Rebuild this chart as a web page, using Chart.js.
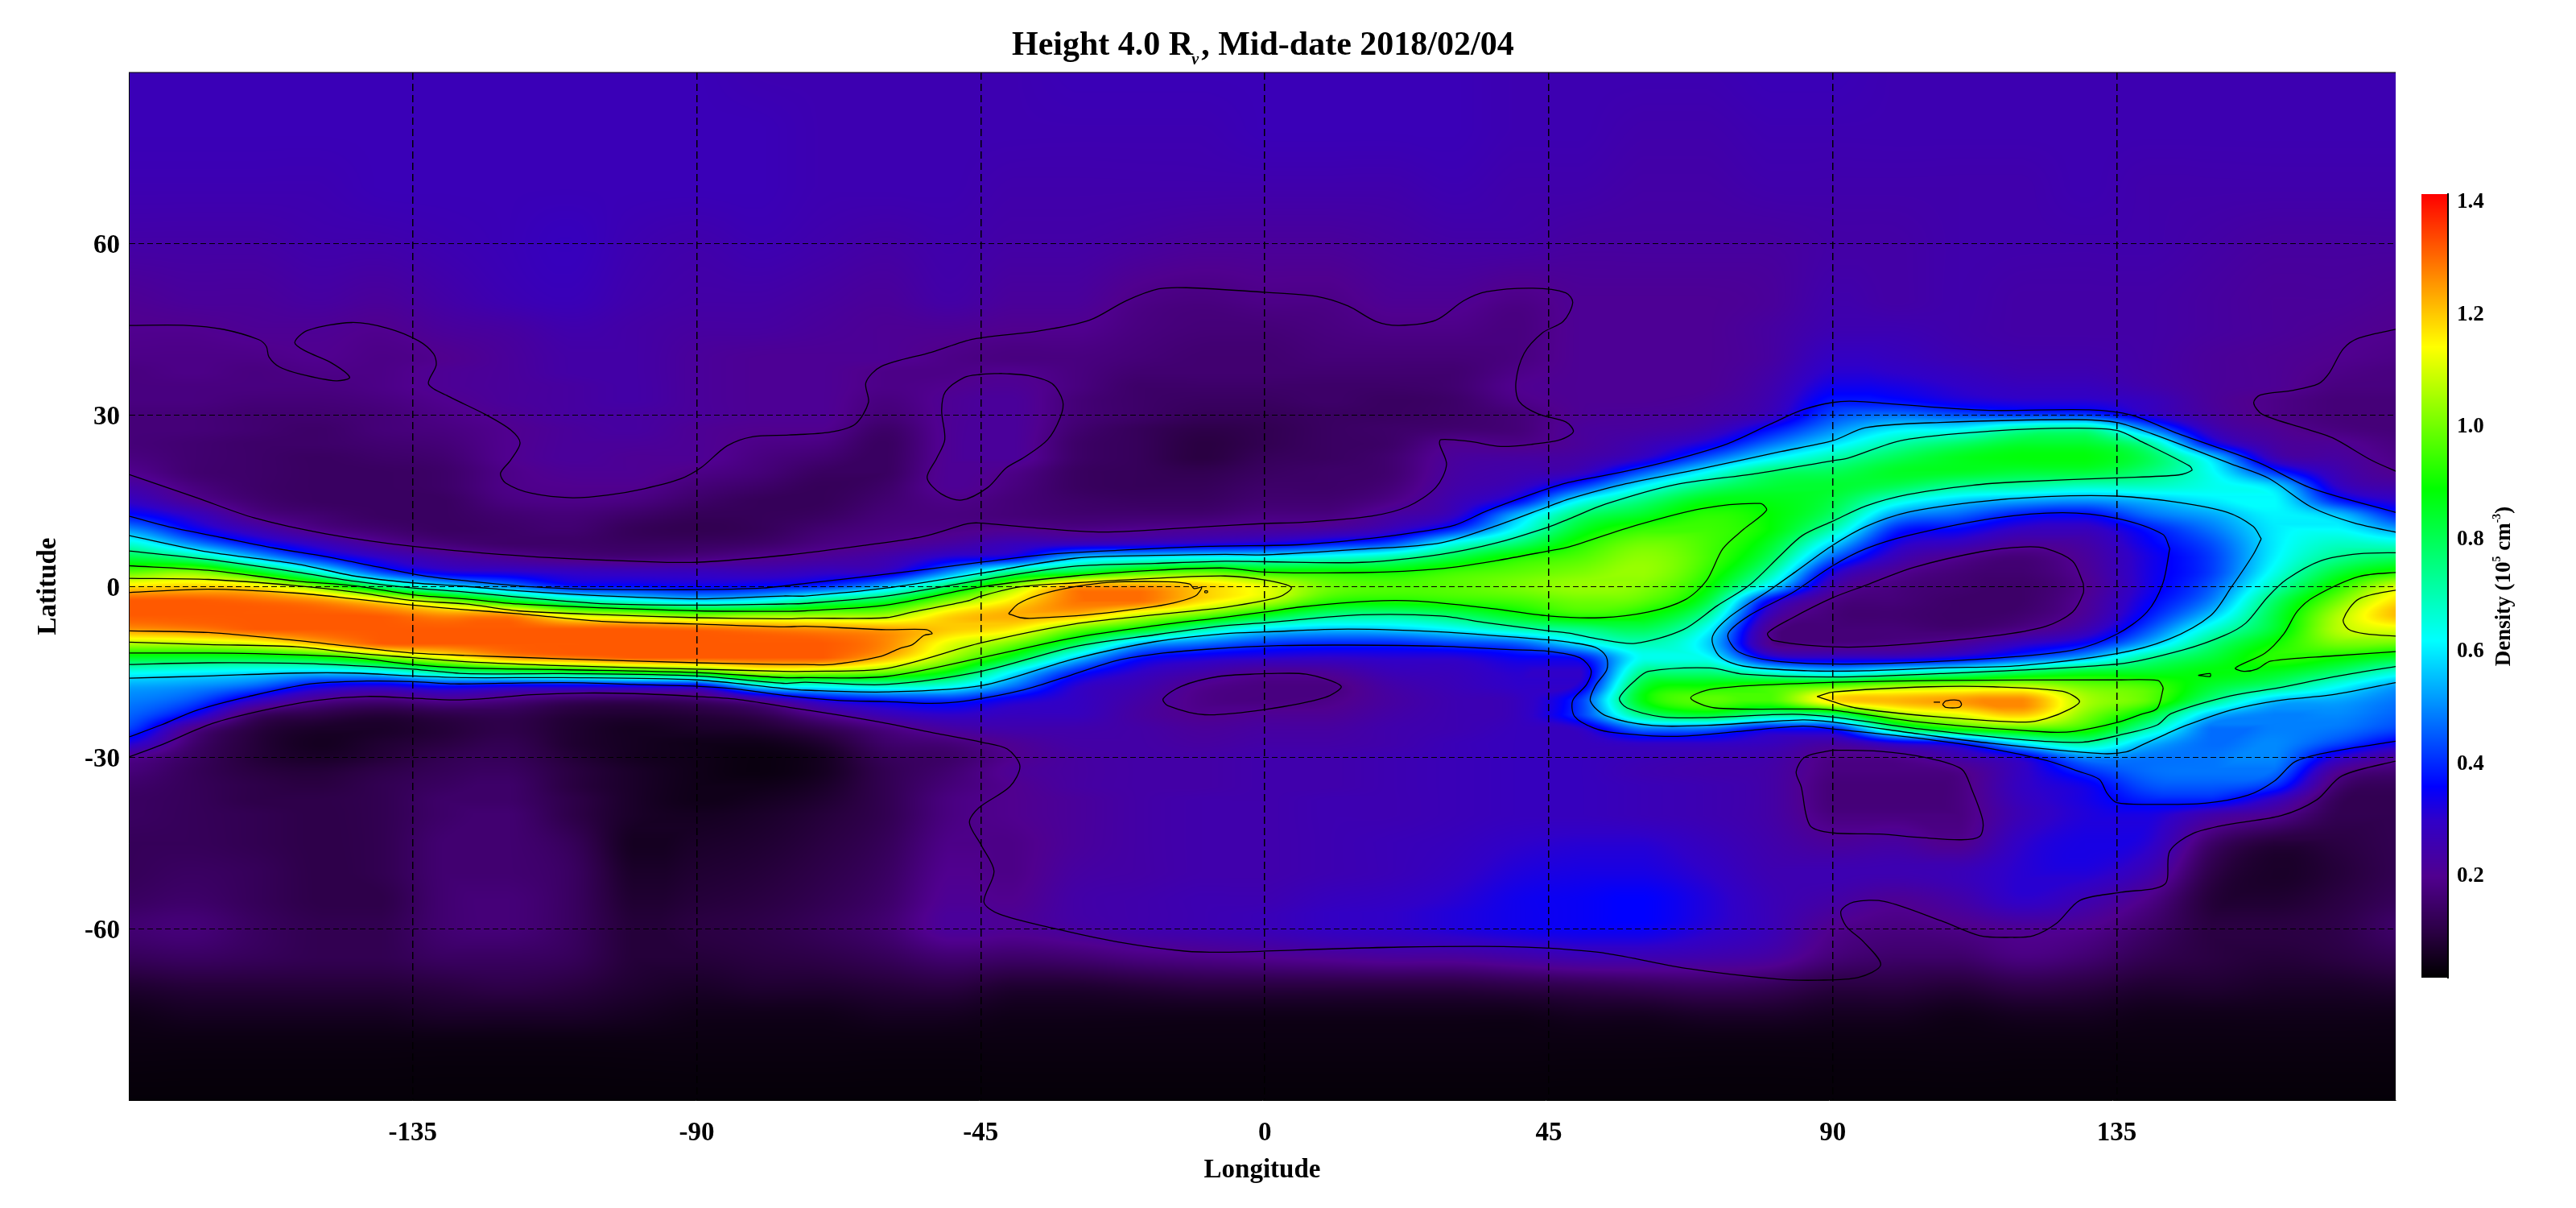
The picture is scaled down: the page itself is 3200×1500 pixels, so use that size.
<!DOCTYPE html>
<html>
<head>
<meta charset="utf-8">
<title>Height 4.0 Rv, Mid-date 2018/02/04</title>
<script src="https://cdn.jsdelivr.net/npm/chart.js@4"></script>
<style>
  body { margin: 0; background: #fff; }
  #map { position: absolute; left: 0; top: 0; }
  #bar { position: absolute; left: 2990px; top: 220px; }
</style>
</head>
<body>
<canvas id="map" width="3200" height="1500"></canvas>
<canvas id="bar" width="210" height="1020"></canvas>
<script>
// ===============================
// Axis ticks
// ===============================
const lonTicks = [-135, -90, -45, 0, 45, 90, 135];
const latTicks = [-60, -30, 0, 30, 60];
const barTicks = [0.2, 0.4, 0.6, 0.8, 1.0, 1.2, 1.4];

// ===============================
// Colour table (density -> colour)
// ===============================
const colorValues = [0.02, 0.1, 0.2, 0.3, 0.36, 0.62, 0.89, 1.143, 1.415];
const colorHex = ["#000000", "#2a0042", "#50008f", "#3000c8", "#0000ff", "#00ffff", "#00ff00", "#ffff00", "#ff0000"];
const densityTop = 1.32; // the map saturates at this value

// ===============================
// Density read from the map, in 0.01 x 10^5 cm^-3
// one row per longitude, values follow mapLats
// ===============================
const mapLons = [-180,-170,-160,-150,-140,-130,-120,-110,-100,-90,-80,-70,-60,-50,-40,-30,-20,-10,0,10,20,30,40,50,60,70,80,90,100,110,120,130,140,150,160,170,180];
const mapLats = [90,80,70,60,50,45,40,37.5,35,32.5,30,27.5,25,22.5,20,17.5,15,12.5,10,7.5,5,2.5,0,-2.5,-5,-7.5,-10,-12.5,-15,-17.5,-20,-22.5,-25,-27.5,-30,-32.5,-35,-37.5,-40,-45,-50,-55,-60,-65,-70,-75,-80,-90];
const density = [
  [27,27,26,24,21,20, 19,18,18,18,17,17,17,18,20,24,29,37,50,66,82,98,117,132,132,126,107,85,64,53,49,46,42,32,20,17,15,14,14, 13,13,14,16,13,8,5,4,3],
  [27,27,26,24,22,20, 19,19,18,18,17,17,16,16,16,18,21,29,36,50,74,102,119,132,132,128,108,84,62,51,44,35,20,16,14,13,13,13,13, 13,14,15,17,14,9,6,4,3],
  [27,27,26,24,22,21, 19,18,18,17,16,16,15,15,15,15,16,19,26,37,56,87,116,130,132,132,112,84,60,46,30,15,10,9,9,10,11,11,12, 12,13,13,14,13,9,6,4,3],
  [27,27,26,25,23,21, 20,19,18,17,16,15,15,14,14,14,14,16,19,28,40,66,100,126,132,132,122,88,58,35,20,11,7,6,7,9,10,11,11, 11,11,11,12,12,9,6,4,3],
  [27,27,27,25,22,20, 19,19,19,18,17,17,16,15,14,14,14,14,16,21,30,43,77,116,131,132,132,100,62,32,17,9,7,8,9,11,12,12,12, 12,12,11,12,12,9,6,4,3],
  [27,27,27,26,24,22, 20,21,21,20,19,18,17,16,15,15,14,14,14,17,24,33,60,102,126,132,132,112,74,37,20,11,9,10,12,13,14,15,15, 16,16,16,16,14,10,7,4,3],
  [27,27,27,27,26,23, 22,22,22,22,21,20,20,20,19,19,18,16,15,15,21,31,50,86,126,132,132,124,80,34,18,12,11,12,13,14,15,15,16, 16,16,17,17,14,11,7,4,3],
  [27,27,27,28,27,25, 24,24,23,23,23,22,22,22,21,20,19,17,16,15,18,29,38,72,110,132,132,128,84,34,14,9,8,8,9,10,10,11,11, 13,14,14,14,13,10,7,4,3],
  [27,27,27,26,25,24, 24,24,24,24,23,23,22,21,21,20,18,15,13,14,17,28,37,64,105,132,132,132,90,34,13,8,6,6,6,7,7,7,7, 6,7,8,9,9,8,6,4,3],
  [27,27,27,25,24,23, 22,22,22,22,22,21,21,21,19,17,15,13,12,14,18,28,35,58,100,130,132,132,94,34,15,9,7,5,5,5,5,5,6, 7,8,9,10,9,7,5,4,3],
  [26,27,27,26,24,23, 21,21,21,21,21,20,19,18,17,15,13,13,13,15,20,27,37,62,102,128,132,132,108,60,22,12,8,5,4,4,5,6,7, 8,9,10,11,10,8,5,4,3],
  [26,26,26,25,23,22, 21,21,21,21,21,20,18,16,14,13,13,14,16,18,22,29,41,75,103,126,132,132,106,64,33,20,12,8,6,6,7,8,9, 10,11,12,13,11,8,5,4,3],
  [26,26,26,24,22,21, 21,19,19,18,17,15,14,14,14,15,16,17,18,20,25,31,55,83,104,124,127,122,100,68,38,27,18,15,13,12,12,12,12, 13,14,15,16,13,9,6,4,3],
  [26,26,26,25,24,21, 19,19,20,21,21,21,21,21,21,21,19,18,19,23,32,50,78,101,118,120,112,105,88,64,40,30,23,17,15,16,17,18,18, 19,20,21,22,16,10,6,4,3],
  [26,26,25,24,22,20, 18,20,21,22,22,22,22,22,19,18,17,17,20,27,36,74,103,116,123,116,101,85,62,48,33,28,25,21,20,21,20,20,20, 19,19,20,21,15,8,5,4,3],
  [27,26,25,24,22,20, 18,18,18,17,17,16,15,15,14,14,15,16,19,28,55,83,124,129,122,100,81,58,40,31,29,28,25,24,23,23,23,22,22, 22,23,24,23,16,8,5,4,3],
  [27,26,25,23,19,18, 17,16,15,15,15,13,13,13,13,13,14,16,20,29,60,94,125,130,110,88,56,38,30,26,24,23,24,24,24,24,24,24,24, 24,24,25,25,18,9,5,4,3],
  [27,26,25,22,18,17, 16,16,15,14,13,11,10,10,12,13,14,16,21,31,63,98,120,118,100,72,48,33,25,20,19,20,22,23,24,24,24,25,25, 25,25,26,26,19,10,5,4,3],
  [27,27,25,22,19,17, 16,16,15,14,13,12,12,13,14,15,16,18,22,33,63,92,112,108,87,60,42,31,21,18,18,21,23,24,25,25,25,25,25, 25,25,26,27,20,10,5,4,3],
  [27,27,25,22,19,18, 17,16,15,15,14,14,14,14,15,15,16,18,23,38,66,91,100,94,76,56,40,30,22,18,19,21,23,24,25,25,25,26,26, 26,26,28,29,21,10,5,4,3],
  [27,27,25,23,21,19, 17,16,15,14,14,15,15,16,16,17,19,23,28,44,72,90,97,92,74,57,40,31,27,24,23,24,25,25,26,26,26,26,26, 27,27,29,30,22,10,5,4,3],
  [27,27,26,24,21,19, 17,16,16,15,15,16,20,22,23,24,26,29,40,64,82,95,98,94,79,62,43,31,28,27,26,26,26,27,27,27,27,27,27, 28,29,31,32,22,10,5,4,3],
  [26,26,25,24,19,18, 18,19,20,19,17,17,19,23,25,28,36,54,63,77,92,98,101,96,87,70,46,35,31,30,28,28,28,28,28,28,28,28,28, 30,32,34,34,24,11,5,4,3],
  [26,26,25,23,21,21, 21,21,21,21,21,22,22,24,28,42,62,77,85,92,97,101,104,100,94,75,60,38,30,33,42,42,30,28,28,28,28,28,28, 31,33,35,35,26,12,6,4,3],
  [26,25,24,23,21,21, 21,21,21,21,22,23,26,30,45,62,76,85,94,100,103,104,102,98,90,80,70,64,74,84,88,75,48,30,27,26,27,27,27, 31,33,36,35,26,13,6,4,3],
  [26,25,24,23,21,21, 21,21,21,22,23,26,33,45,62,76,87,93,95,96,96,94,90,83,73,63,58,63,76,90,98,84,47,30,26,25,26,26,26, 28,30,32,31,25,14,7,4,3],
  [27,26,25,23,22,23, 23,24,25,26,28,37,47,60,77,83,87,89,89,85,80,72,60,36,27,21,20,34,65,94,96,74,36,28,25,24,24,24,24, 25,26,27,27,23,13,7,4,3],
  [27,26,25,24,25,26, 29,31,34,38,43,50,59,71,80,84,82,78,70,58,46,33,25,19,17,17,18,30,58,98,118,78,38,24,19,18,17,17,18, 22,26,24,20,17,10,6,4,3],
  [26,26,25,24,24,26, 28,30,33,37,47,60,71,80,85,80,66,52,40,33,27,21,18,17,16,17,19,30,65,104,122,104,74,32,20,18,17,17,18, 23,26,21,18,15,10,6,4,3],
  [26,26,25,25,25,25, 26,28,30,33,44,62,78,86,85,73,57,46,36,28,20,17,16,15,15,16,22,34,70,106,125,112,90,38,25,19,18,18,18, 20,27,24,19,15,9,5,4,3],
  [26,26,25,25,24,24, 25,26,28,31,42,72,84,88,83,71,53,38,29,22,17,16,15,15,16,19,29,43,78,108,127,120,96,60,33,29,29,28,27, 30,31,30,21,18,11,6,4,3],
  [26,26,26,25,24,24, 25,26,28,31,42,74,84,88,83,68,51,36,28,24,22,21,20,21,22,26,36,54,84,100,106,102,93,72,50,40,34,33,32, 33,32,26,20,16,10,6,4,3],
  [26,26,25,25,24,24, 24,24,25,28,31,50,72,80,76,68,55,47,38,35,33,33,33,35,38,44,54,73,85,96,98,85,70,55,48,47,44,39,33, 31,26,19,15,12,8,5,4,3],
  [26,26,25,24,23,23, 22,22,22,22,23,27,36,58,63,64,60,53,48,44,42,42,45,49,56,66,76,83,88,84,75,56,47,47,48,48,45,39,25, 15,11,9,10,10,8,5,4,3],
  [26,26,25,23,22,22, 21,21,21,19,19,21,23,27,41,58,62,61,60,60,61,64,70,78,82,84,90,93,86,76,56,49,49,50,50,47,40,28,20, 9,7,8,10,9,7,5,4,3],
  [26,26,25,23,22,21, 20,19,18,17,17,18,21,23,26,30,39,56,62,68,74,83,92,100,106,107,101,90,78,63,53,50,48,43,31,21,16,13,12, 10,9,10,11,10,7,5,4,3],
  [26,26,25,23,21,20, 19,18,18,17,17,17,18,19,20,24,30,39,52,66,79,92,110,118,122,112,100,84,66,52,48,46,43,34,22,16,13,12,12, 12,12,13,15,12,8,5,4,3],
];

// ===============================
// Contour lines read from the map, [longitude, latitude]
// ===============================
const lineNorth = [[-180,45.7],[-170.8,45.7],[-165,45],[-159.4,43.2],[-158.2,42],[-157.8,40.2],[-156.1,38.4],[-152.9,37.2],[-147.2,36],[-145,36.6],[-148,39.2],[-152,41.2],[-153.7,42.7],[-151.7,44.8],[-144.7,46.2],[-139,45.2],[-134.1,43],[-131.7,40.7],[-131.3,38.7],[-132.5,35.4],[-129.2,33.2],[-123.5,30.1],[-119.5,27.4],[-118,25.1],[-119.5,22.1],[-121.1,19.8],[-120.3,18.1],[-116.2,16.3],[-109.7,15.5],[-104,16],[-98.3,17.1],[-92.6,18.8],[-89.3,20.8],[-85.2,24.6],[-81.2,26.2],[-75.4,26.5],[-68.9,27],[-64.9,28.4],[-62.8,32.2],[-63.2,35.7],[-60.8,38.5],[-52.8,41],[-46.2,43.3],[-35.9,44.7],[-27.8,46.6],[-22,50],[-16.8,52.1],[-12.4,52.3],[0,51.5],[8.1,50.8],[13.2,49.1],[17.6,46.4],[21.3,45.7],[27.1,46.6],[31.5,50],[35.2,51.6],[42.5,52.2],[47.7,51.4],[48.8,49.7],[47.3,46.4],[44,44.4],[41.1,40.8],[39.8,35.8],[40.3,32.4],[43.3,30.2],[47.7,28.8],[48.9,27.1],[46.9,25.7],[42.5,24.9],[37.4,24.5],[32.3,25.4],[27.9,25.7],[27.7,24.9],[28.8,21.3],[27.1,17.3],[22.7,14],[16.9,12.3],[5.9,11.2],[0,11],[-10.2,10.4],[-25.6,9.5],[-38.1,10.4],[-45.4,11.1],[-47.3,10.9],[-54.2,8.7],[-63.2,7.2],[-75.4,5.5],[-90.1,4.2],[-99.9,4.4],[-116.2,5.2],[-135,7],[-148.8,9.2],[-160.2,12],[-169.2,15.5],[-180,19.6]];
const lineNorthEast = [[180,45.2],[173.4,43.5],[170.9,41.6],[168.7,37.4],[167,35.5],[162.8,34.3],[157.7,33.5],[156.7,32.1],[158.1,30.1],[164.9,27.6],[169.2,26],[175.5,22],[180,19.8]];
const loopNorth = [[-41.8,37.3],[-37.4,36.9],[-33.7,35.5],[-32,32.4],[-32.4,29.6],[-34.4,25.7],[-38.1,22.6],[-41,20.7],[-43.9,17.3],[-48,15.1],[-51.3,16.2],[-53.5,19],[-52,22.4],[-50.7,25.7],[-51.2,30.8],[-50.6,34.1],[-47.6,36.6],[-45.1,37.1],[-41.8,37.3]];
const loopBelowBand = [[0,-15.3],[6.6,-15.4],[12.1,-17.5],[9.5,-19.5],[0,-21.6],[-9.5,-22.5],[-15.4,-20.9],[-16.1,-19.7],[-13.2,-17.5],[-7.3,-15.8],[0,-15.3]];
const lineSouth = [[-180,-29.9],[-174.9,-27.8],[-166.7,-24],[-158.6,-21.7],[-150.4,-20],[-142.3,-19.3],[-135,-19.6],[-128.4,-19.9],[-122.7,-19.6],[-116.2,-19],[-108,-18.7],[-99.9,-18.8],[-90,-19.3],[-83.6,-19.8],[-75.4,-21.2],[-67.3,-22.6],[-60,-24],[-51.9,-25.8],[-44.9,-27.3],[-40.8,-28.5],[-38.8,-31.5],[-40.4,-35.1],[-45.3,-38.8],[-46.8,-41.4],[-44.9,-45.4],[-42.9,-49.9],[-44.5,-55.3],[-42.1,-57.4],[-33.9,-59.8],[-23.3,-62.3],[-12.7,-63.9],[-5.4,-64.1],[5.2,-63.7],[21.5,-63.2],[37.8,-63.1],[45.1,-63.4],[54.1,-64.3],[67.2,-67],[81.1,-68.8],[87.6,-69],[94.1,-68.5],[97.6,-66.3],[94.9,-62.3],[92.1,-59.5],[91.3,-56.9],[93.3,-55.3],[98.2,-55.2],[107.2,-58.6],[113.3,-61.2],[118.2,-61.5],[121.8,-61.2],[125.5,-59],[129.2,-55],[135.7,-53.6],[142.6,-52.2],[143.4,-46.4],[147.1,-43.3],[152.8,-41.7],[161,-40.2],[166.7,-37.4],[170.7,-33.2],[180,-30.4]];
const loopSouth = [[90,-28.7],[97.4,-28.9],[104.7,-30],[110.4,-32],[112,-35.5],[113.8,-41.2],[113.3,-43.8],[110.4,-44.4],[103.9,-44],[97.4,-43.4],[90,-43.2],[86.4,-41.9],[85,-35.1],[84.2,-32.5],[85.6,-29.9],[90,-28.7]];
const holeInner = [[129.7,0.5],[128,4.4],[123.8,6.6],[120.5,6.9],[113.7,6.1],[102.8,3.3],[95.3,0.2],[90,-2],[83.5,-5.6],[79.7,-8.2],[80.6,-9.5],[90,-10.6],[98.6,-10.4],[115.4,-8.7],[123.8,-7],[128,-4.5],[129.7,-1.2],[129.7,0.5]];
const holeMiddle = [[143.4,6.6],[142.3,9.1],[135,11.9],[126.4,12.9],[115.4,11.9],[102,8.9],[95.3,6.6],[90,3.6],[83.5,-1.2],[76.8,-5.1],[73.4,-8.4],[75.1,-11.5],[81.8,-13.2],[94.4,-13.6],[115.4,-12.6],[128,-11.2],[135,-8.4],[139.8,-4.5],[142.3,0.5],[143.4,6.6]];
const holeOuter = [[157.9,8.3],[156.6,10.5],[152.4,13],[144.8,14.7],[135,15.8],[123.8,15.7],[112.1,14.7],[102,13],[95.3,10.5],[90,7.2],[84.3,2.7],[80.1,-0.6],[73.4,-5.6],[70.9,-9],[72.1,-12.3],[75.9,-14],[86,-14.8],[95.3,-14.8],[107,-14.3],[119.6,-13.9],[135,-11.8],[143.2,-9.3],[149.9,-5.1],[153.2,-0.1],[156.6,5.5],[157.9,8.3]];
const bandA = [[-180,12.3],[-173.2,10.3],[-165.1,8.5],[-157,6.7],[-148.8,5.2],[-140.6,3.4],[-132.5,1.7],[-124.3,0.7],[-116.2,-0.1],[-108,-0.5],[-91.7,-0.6],[-79.5,-0.3],[-71.4,0.7],[-63.2,1.7],[-52.8,3.1],[-45,4.2],[-34.4,5.6],[-23.4,6.3],[-8.8,7],[5.9,7.3],[16.9,8.4],[24.2,9.5],[30.1,10.7],[35.2,13.2],[42.5,16.2],[48.2,18.2],[56.6,20],[65,22.2],[73.4,25],[80.1,28.4],[85.2,30.9],[90,32.2],[93.6,32.4],[107,31.3],[115.4,30.8],[130.6,30.9],[137.3,30],[144.8,26.7],[157.4,21.7],[165.8,17.2],[180,12.7]];
const bandALow = [[-180,-26.4],[-174.9,-24.3],[-169.2,-21.7],[-161,-19.3],[-151.2,-17.1],[-142.3,-16.6],[-135,-16.7],[-128.4,-17.1],[-116.2,-16.9],[-108,-16.9],[-99.9,-17.2],[-90.1,-17.5],[-83.6,-18],[-75.4,-19.2],[-67.3,-20],[-60,-20.2],[-52.8,-20.5],[-46.9,-20],[-38.1,-18.1],[-30.8,-15.6],[-23.4,-13],[-16.1,-11.7],[-8.8,-11],[2.2,-10.4],[13.2,-10.3],[27.9,-10.5],[38.9,-11.1],[45,-11.4],[49.9,-12.5],[51.7,-14.7],[51,-17.2],[48.8,-20],[49.1,-22.8],[52.1,-24.8],[55.8,-25.7],[64.8,-26.3],[75.4,-25.4],[85.2,-24.5],[90,-25],[102.8,-26.5],[115.4,-28.5],[123.8,-30.5],[128.9,-32.4],[132.2,-33.8],[133.5,-36.3],[135,-37.9],[140.6,-38.2],[149,-38],[155.8,-36.6],[160,-34.1],[163.3,-30.7],[168.4,-29.1],[180,-27]];
const bandB = [[-180,8.9],[-167.4,6],[-153.4,3.9],[-144.3,1.8],[-135,0.6],[-126.7,0],[-118.3,-0.8],[-104.3,-1.7],[-90,-2.2],[-76.3,-1.7],[-72.8,-1.7],[-60,-0.3],[-44.9,2.3],[-30.2,4.9],[-17.4,5.4],[-6.3,5.6],[0,5.5],[15.4,6.5],[27.9,7.6],[36.7,10.6],[45,14],[48.2,15.3],[56.6,17.8],[69.2,20.6],[81.8,23.6],[90,25.5],[95.3,27.8],[107,28.7],[128,29.2],[135,28.7],[140.6,26.7],[153.2,21.4],[159.1,18.9],[165.8,13.9],[172.6,11.1],[180,9.3]];
const bandBLow = [[-180,-16.1],[-167.4,-15.7],[-153.4,-15.2],[-144.3,-15.2],[-135,-15.7],[-126.7,-16],[-111.3,-16],[-90,-16.4],[-76.3,-17.9],[-72.8,-18.2],[-60,-18.5],[-44.9,-17.4],[-30.2,-12.7],[-17.4,-9.7],[-6.3,-8.3],[0,-8],[13.2,-7.5],[27.9,-8],[45,-9.4],[48.2,-9.8],[52.4,-10.7],[54.1,-12.3],[54.2,-14.6],[52.4,-17.4],[51.6,-20.1],[54.1,-22.7],[61.5,-24.4],[71.3,-24.3],[85.2,-23.4],[90,-23.8],[103.9,-25.9],[115,-27.5],[132.4,-29.3],[136.5,-29],[139.4,-27.6],[142.8,-25.9],[145.7,-24.5],[153,-21.7],[160.6,-20],[169.2,-19],[180,-16.7]];
const bandC = [[-180,-13.7],[-167.4,-13.4],[-153.4,-13.5],[-144.3,-13.9],[-135,-14.5],[-126.7,-15.3],[-111.3,-15.3],[-90,-15.7],[-76.3,-17],[-72.8,-16.8],[-60,-17.2],[-44.9,-14.9],[-30.2,-10.6],[-17.4,-8.5],[-6.3,-6.9],[0,-6.4],[15.4,-5],[27.9,-5.2],[35.2,-6.4],[45,-7.8],[48.2,-8.2],[53.2,-9.3],[58.7,-10],[66.3,-7.6],[71.7,-3.4],[76.8,0.2],[81.8,5.5],[85.2,8.9],[90,11.4],[95.3,14.1],[102,16.1],[112.1,17.7],[119.6,18.3],[135,19],[144.8,19.5],[146.9,20.3],[146.5,21.1],[139,25.3],[135,27.3],[128,27.7],[115.4,27.2],[101.1,25.6],[92.3,22.4],[90,22],[77.6,19.7],[65,17.8],[54,14.4],[48.2,11.8],[45,10.4],[36.7,7.6],[27.9,5.6],[15.4,4.2],[0,4.3],[-6.3,4.4],[-17.4,4],[-30.2,3.5],[-44.9,1.1],[-60,-1.7],[-72.8,-3],[-76.3,-3.1],[-90,-3.3],[-104.3,-3.1],[-118.3,-1.9],[-126.7,-1],[-135,-0.3],[-144.3,0.9],[-153.4,2.5],[-167.4,4.7],[-180,6.2]];
const bandCEast = [[180,5.9],[173.4,5.7],[167.4,4.5],[161.9,1.2],[158.9,-1.9],[155.5,-6.4],[152.1,-8.6],[145.7,-11.1],[135.4,-13.6],[107,-15.3],[90,-15.9],[75.9,-15.4],[70.5,-14.3],[60.8,-14.9],[58.7,-16.5],[56.2,-19.6],[57.4,-21.3],[63.1,-22.9],[69.7,-23],[83.5,-22.4],[90,-22.9],[103.9,-25],[120.2,-26.9],[129.6,-27.3],[135.3,-26.1],[141.4,-24.3],[143.6,-22.3],[153,-19.2],[160.6,-17.8],[169.2,-15.9],[180,-13.9]];
const bandD = [[-180,-11.7],[-167.4,-11.7],[-153.4,-12],[-144.3,-12.5],[-135,-13.7],[-126.7,-14.3],[-111.3,-14.6],[-90,-15.1],[-76.3,-16],[-72.8,-16],[-60,-15.8],[-44.9,-12.5],[-30.2,-9],[-17.4,-6.9],[-6.3,-5.4],[0,-4.5],[5.9,-3.6],[16.9,-2.6],[24.2,-2.6],[35.2,-3.8],[45,-5.2],[53.2,-5.5],[60.8,-4.5],[66.7,-2.3],[70,1],[72.6,6.6],[75.9,10],[79.5,13.3],[78.5,14.5],[69.2,13.6],[58.3,10.5],[48.2,6.9],[45,6.2],[36.7,4.5],[27.9,3.1],[15.4,2.4],[0,2.5],[-6.3,3.2],[-17.4,2.8],[-30.2,1.8],[-44.9,-0.1],[-60,-3.3],[-72.8,-4.3],[-76.3,-4.4],[-90,-4.3],[-104.3,-3.8],[-118.3,-3.1],[-126.7,-2.2],[-135,-1.5],[-144.3,0.1],[-153.4,0.9],[-167.4,2.8],[-180,3.6]];
const bandDEast = [[180,2.5],[173.4,1.7],[166.2,-1.9],[163.6,-4.4],[161.5,-8.3],[158.5,-11.7],[153.8,-14.3],[155.1,-14.9],[157.2,-14.5],[159.4,-13.1],[169.2,-12.2],[180,-11.4]];
const ovalD = [[90.2,-16.8],[107,-16.5],[135,-16.4],[141.5,-16.5],[142.3,-17.6],[142.3,-18.2],[141.4,-21.4],[138.9,-22.4],[135.3,-23.8],[128.3,-25.4],[123.5,-25.5],[103.9,-23.8],[90.2,-21.7],[87.7,-21.5],[71.3,-21.3],[67.5,-19.6],[70,-18.2],[76.8,-17.4],[90.2,-16.8]];
const speckD = [[147.9,-15.6],[149.8,-15.3],[149.8,-15.8],[147.9,-15.6]];
const bandE = [[-180,1.4],[-167.4,1.2],[-153.4,0.1],[-144.3,-1],[-135,-2.5],[-126.7,-3.1],[-118.3,-4.3],[-104.3,-5],[-90,-5.5],[-76.3,-5.7],[-72.8,-5.6],[-60,-5.5],[-55.8,-4.5],[-47.2,-2.6],[-44.9,-1.7],[-38.7,-0.1],[-30.2,0.6],[-17.4,1.4],[-6.3,1.8],[0,1.1],[4.2,-0.2],[2.2,-1.9],[-5.9,-3.6],[-17.4,-5],[-30.2,-6.6],[-44.9,-9.9],[-60,-14.4],[-72.8,-14.9],[-76.3,-14.9],[-90,-14.5],[-111.3,-13.9],[-126.7,-13.2],[-135,-12.5],[-144.3,-11.7],[-153.4,-10.6],[-167.4,-10.2],[-180,-9.8]];
const ovalEEast = [[180,-0.5],[173.4,-2.2],[170.9,-5.8],[171.7,-7.5],[174.3,-8.3],[180,-8.8]];
const ovalE = [[87.5,-19.3],[90.2,-18.5],[105.3,-17.6],[115.4,-17.6],[126.4,-18.4],[129.1,-20.1],[127.6,-21.5],[123.8,-23.2],[120.5,-23.8],[107,-22.9],[93.6,-21.3],[87.5,-19.3]];
const bandF = [[-180,-1.1],[-167.4,-0.5],[-153.4,-1.2],[-144.3,-2.2],[-135,-3.3],[-126.7,-4.1],[-118.3,-4.8],[-104.3,-6.2],[-90,-6.6],[-76.3,-7.1],[-72.8,-7],[-66.4,-7.3],[-60,-7.6],[-53.6,-7.6],[-52.7,-8.3],[-54,-8.6],[-55.8,-10.2],[-57.9,-10.9],[-60.9,-12.3],[-68.5,-13.7],[-72.8,-13.7],[-76.3,-13.7],[-90,-13.4],[-111.3,-12.7],[-126.7,-12.1],[-135,-11.7],[-144.3,-10.6],[-153.4,-9.5],[-167.4,-8.1],[-180,-7.8]];
const ovalF = [[-40.6,-4.8],[-39.1,-3.1],[-35.7,-1.5],[-30.2,-0.1],[-24.7,0.7],[-15.3,0.8],[-11.9,0.4],[-11.2,-0.4],[-10,-0.2],[-11,-1.7],[-14.4,-2.9],[-19.1,-3.8],[-28,-5],[-36.6,-5.6],[-38.7,-5.5],[-40.6,-4.8]];
const speckF = [[-9.5,-0.8],[-9.1,-0.8],[-9.1,-1.1],[-9.5,-1.1],[-9.5,-0.8]];
const ovalFSouth = [[107.4,-20.7],[107.9,-20.1],[110,-20],[110.4,-20.7],[110,-21.2],[107.9,-21.2],[107.4,-20.7]];
const speckFSouth = [[106,-20.3],[107,-20.3]];

const contourLines = [lineNorth, lineNorthEast, loopNorth, loopBelowBand, lineSouth, loopSouth, holeInner, holeMiddle, holeOuter, bandA, bandALow, bandB, bandBLow, bandC, bandCEast, bandD, bandDEast, ovalD, speckD, bandE, ovalEEast, ovalE, bandF, ovalF, speckF, ovalFSouth, speckFSouth];

// ===============================
// Colour and interpolation helpers
// ===============================
const colorRgb = colorHex.map((h) => [parseInt(h.slice(1, 3), 16), parseInt(h.slice(3, 5), 16), parseInt(h.slice(5, 7), 16)]);

function colorAt(v) {
  if (v <= colorValues[0]) return colorRgb[0];
  for (let i = 1; i < colorValues.length; i++) {
    if (v <= colorValues[i]) {
      const t = (v - colorValues[i - 1]) / (colorValues[i] - colorValues[i - 1]);
      const a = colorRgb[i - 1], b = colorRgb[i];
      return [a[0] + (b[0] - a[0]) * t, a[1] + (b[1] - a[1]) * t, a[2] + (b[2] - a[2]) * t];
    }
  }
  return colorRgb[colorRgb.length - 1];
}

function cubic(p0, p1, p2, p3, t) {
  const v = p1 + 0.5 * t * (p2 - p0 + t * (2 * p0 - 5 * p1 + 4 * p2 - p3 + t * (3 * (p1 - p2) + p3 - p0)));
  return Math.max(Math.min(p1, p2), Math.min(Math.max(p1, p2), v));
}

function cellAt(list, value, descending) {
  let i = 0;
  while (i < list.length - 2 && (descending ? value < list[i + 1] : value > list[i + 1])) i++;
  return [i, (value - list[i]) / (list[i + 1] - list[i])];
}

// ===============================
// Heat map, drawn under the axes
// ===============================
const heatMap = {
  id: "heatMap",
  beforeDraw(chart) {
    const { ctx, chartArea: area, scales } = chart;
    const w = Math.round(area.right - area.left);
    const h = Math.round(area.bottom - area.top);
    const img = ctx.createImageData(w, h);
    const cols = density.length;
    const rows = mapLats.length;
    const lonCells = [];
    for (let px = 0; px < w; px++) lonCells.push(cellAt(mapLons, scales.x.getValueForPixel(area.left + px + 0.5), false));
    const profile = new Array(cols);
    for (let py = 0; py < h; py++) {
      const [r, tr] = cellAt(mapLats, scales.y.getValueForPixel(area.top + py + 0.5), true);
      const r0 = Math.max(r - 1, 0), r3 = Math.min(r + 2, rows - 1);
      for (let c = 0; c < cols; c++) {
        const d = density[c];
        profile[c] = cubic(d[r0], d[r], d[r + 1], d[r3], tr);
      }
      for (let px = 0; px < w; px++) {
        const [c, tc] = lonCells[px];
        const v = cubic(profile[Math.max(c - 1, 0)], profile[c], profile[c + 1], profile[Math.min(c + 2, cols - 1)], tc) / 100;
        const rgb = colorAt(Math.min(v, densityTop));
        const k = (py * w + px) * 4;
        img.data[k] = rgb[0];
        img.data[k + 1] = rgb[1];
        img.data[k + 2] = rgb[2];
        img.data[k + 3] = 255;
      }
    }
    ctx.putImageData(img, Math.round(area.left), Math.round(area.top));
  },
  afterDraw(chart) {
    const { ctx, chartArea: area } = chart;
    ctx.save();
    // top edge of the frame
    ctx.strokeStyle = "#000";
    ctx.lineWidth = 1;
    ctx.beginPath();
    ctx.moveTo(area.left, area.top);
    ctx.lineTo(area.right, area.top);
    ctx.stroke();
    // title, with the subscript after R
    ctx.fillStyle = "#000";
    ctx.textBaseline = "alphabetic";
    const big = "bold 42px 'Liberation Serif'";
    const small = "italic bold 20px 'Liberation Serif'";
    const first = "Height 4.0 R";
    const last = ", Mid-date 2018/02/04";
    ctx.font = big;
    const wFirst = ctx.measureText(first).width;
    const x0 = 1257;
    ctx.fillText(first, x0, 68);
    ctx.fillText(last, x0 + wFirst + 10, 68);
    ctx.font = small;
    ctx.fillText("v", x0 + wFirst - 2, 80);
    ctx.restore();
  },
};

// ===============================
// Main chart
// ===============================
const axisFont = { family: "'Liberation Serif'", size: 33, weight: "bold" };

new Chart(document.getElementById("map"), {
  type: "scatter",
  data: {
    datasets: contourLines.map((line) => ({
      data: line.map((p) => ({ x: p[0], y: p[1] })),
      showLine: true,
      tension: 0.3,
      borderColor: "#000",
      borderWidth: 1.3,
      pointRadius: 0,
    })),
  },
  plugins: [heatMap],
  options: {
    responsive: false,
    animation: false,
    layout: { padding: { left: 0, top: 90, right: 224, bottom: 0 } },
    plugins: { legend: { display: false }, tooltip: { enabled: false } },
    scales: {
      x: {
        type: "linear",
        min: -180,
        max: 179.2,
        afterBuildTicks: (s) => { s.ticks = lonTicks.map((v) => ({ value: v })); },
        afterFit: (s) => { s.height = 134; },
        grid: { color: "#000", lineWidth: 1.5, drawTicks: false },
        border: { display: true, color: "#000", width: 1, dash: [9, 5] },
        ticks: { color: "#000", font: axisFont, padding: 22, maxRotation: 0, autoSkip: false },
        title: { display: true, text: "Longitude", color: "#000", font: axisFont, padding: { top: 0, bottom: 27 } },
      },
      y: {
        type: "linear",
        min: -90,
        max: 90,
        afterBuildTicks: (s) => { s.ticks = latTicks.map((v) => ({ value: v })); },
        afterFit: (s) => { s.width = 160; },
        grid: { color: "#000", lineWidth: 1, drawTicks: false },
        border: { display: true, color: "#000", width: 1, dash: [7, 4] },
        ticks: { color: "#000", font: axisFont, padding: 11, labelOffset: 3, autoSkip: false },
        title: { display: true, text: "Latitude", color: "#000", font: axisFont, padding: { top: 41, bottom: 0 } },
      },
    },
  },
});

// ===============================
// Colour bar
// ===============================
const barFill = {
  id: "barFill",
  beforeDraw(chart) {
    const { ctx, chartArea: area, scales } = chart;
    for (let y = Math.floor(area.top); y < area.bottom; y++) {
      const rgb = colorAt(scales.y.getValueForPixel(y + 0.5));
      ctx.fillStyle = `rgb(${rgb[0]},${rgb[1]},${rgb[2]})`;
      ctx.fillRect(area.left, y, area.right - area.left, 1);
    }
  },
  afterDraw(chart) {
    // rotated label, with the exponents raised
    const { ctx } = chart;
    const parts = [["Density (10", false], ["5", true], [" cm", false], ["-3", true], [")", false]];
    ctx.save();
    ctx.fillStyle = "#000";
    ctx.translate(128, 508);
    ctx.rotate(-Math.PI / 2);
    ctx.textBaseline = "alphabetic";
    let total = 0;
    parts.forEach(([t, up]) => {
      ctx.font = `bold ${up ? 14 : 27}px 'Liberation Serif'`;
      total += ctx.measureText(t).width;
    });
    let x = -total / 2;
    parts.forEach(([t, up]) => {
      ctx.font = `bold ${up ? 14 : 27}px 'Liberation Serif'`;
      ctx.fillText(t, x, up ? -12 : 0);
      x += ctx.measureText(t).width;
    });
    ctx.restore();
  },
};

new Chart(document.getElementById("bar"), {
  type: "scatter",
  data: { datasets: [] },
  plugins: [barFill],
  options: {
    responsive: false,
    animation: false,
    layout: { padding: { left: 18, top: 21, right: 0, bottom: 26 } },
    plugins: { legend: { display: false }, tooltip: { enabled: false } },
    scales: {
      x: { display: false, min: 0, max: 1 },
      y: {
        position: "right",
        min: 0.02,
        max: 1.415,
        afterBuildTicks: (s) => { s.ticks = barTicks.map((v) => ({ value: v })); },
        afterFit: (s) => { s.width = 159; s.paddingTop = 0; s.paddingBottom = 0; },
        grid: { display: false, drawTicks: false },
        border: { display: true, color: "#000", width: 2 },
        ticks: {
          color: "#000",
          padding: 11,
          autoSkip: false,
          font: { family: "'Liberation Serif'", size: 27, weight: "bold" },
          callback: (v) => v.toFixed(1),
        },
      },
    },
  },
});
</script>
</body>
</html>
